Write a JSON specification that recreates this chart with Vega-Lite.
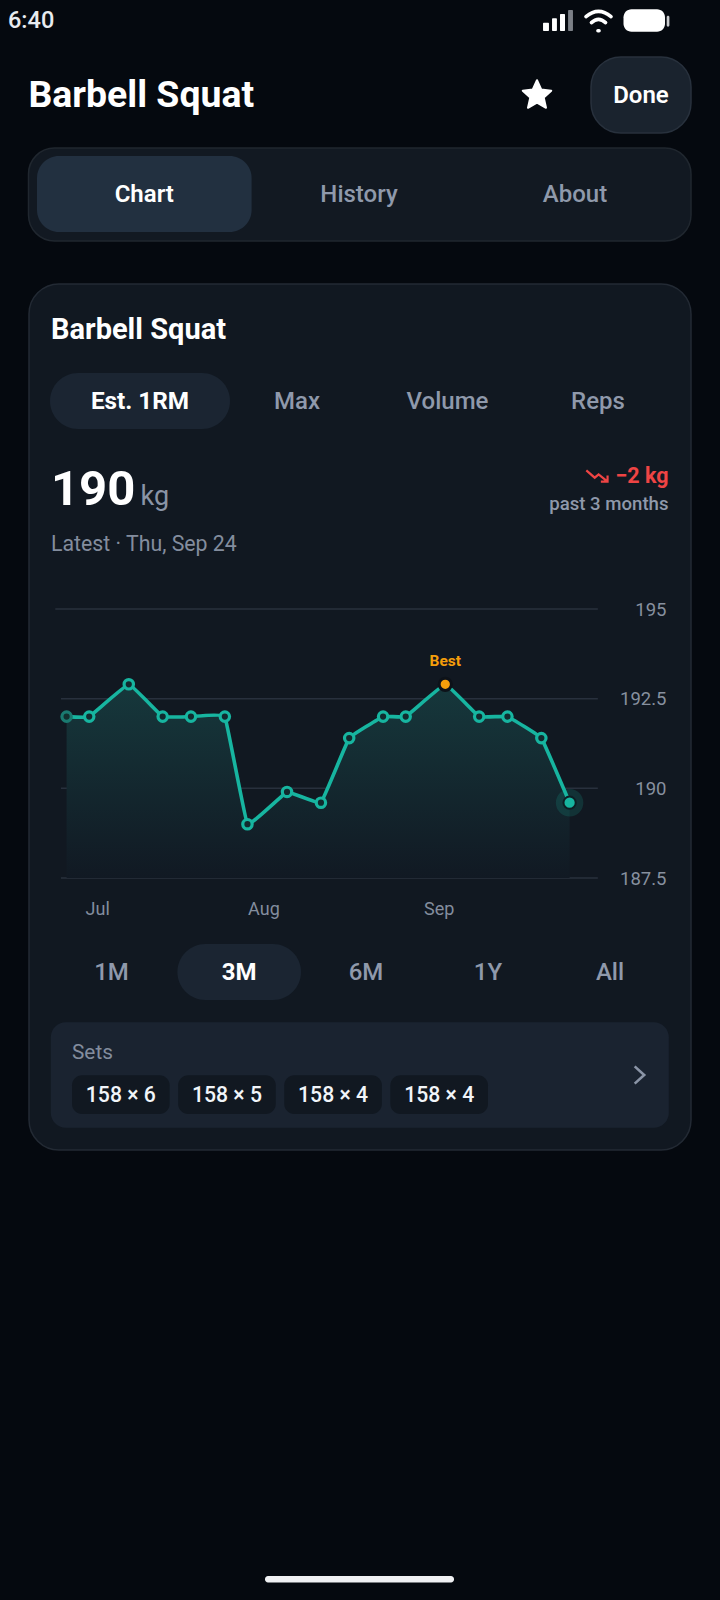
{
  "$schema": "https://vega.github.io/schema/vega-lite/v6.json",
  "width": 720,
  "height": 1600,
  "padding": 0,
  "autosize": {"type": "none"},
  "background": "#05090f",
  "view": {"stroke": null},
  "config": {"font": "Roboto"},
  "resolve": {"scale": {"x": "independent", "y": "independent"}},
  "layer": [
    {
      "data": {"values": [{"label": "6:40"}]},
      "mark": {"type": "text", "fontSize": 23.5, "fontWeight": 500, "color": "#e8ebef", "align": "left", "baseline": "middle"},
      "encoding": {
        "x": {"field": "label", "type": "nominal", "axis": null, "scale": {"type": "point", "padding": 0, "range": [8, 8]}},
        "y": {"field": "label", "type": "nominal", "axis": null, "scale": {"type": "point", "padding": 0, "range": [21, 21]}},
        "text": {"field": "label"}
      }
    },
    {
      "data": {"values": [{"icon": "signal"}]},
      "mark": {"type": "point", "shape": "M-0.95,0.2 L-0.65,0.2 L-0.65,0.65 L-0.95,0.65 Z M-0.35,-0.1 L-0.12,-0.1 L-0.12,0.65 L-0.35,0.65 Z M0.18,-0.38 L0.42,-0.38 L0.42,0.65 L0.18,0.65 Z", "filled": true, "color": "#ffffff", "stroke": "#ffffff", "strokeWidth": 1.4, "strokeJoin": "round", "opacity": 1, "size": 900},
      "encoding": {
        "x": {"field": "icon", "type": "nominal", "axis": null, "scale": {"type": "point", "padding": 0, "range": [558, 558]}},
        "y": {"field": "icon", "type": "nominal", "axis": null, "scale": {"type": "point", "padding": 0, "range": [20.5, 20.5]}}
      }
    },
    {
      "data": {"values": [{"icon": "signal-off"}]},
      "mark": {"type": "point", "shape": "M0.72,-0.65 L0.95,-0.65 L0.95,0.65 L0.72,0.65 Z", "filled": true, "color": "#7b7f86", "stroke": "#7b7f86", "strokeWidth": 1.4, "strokeJoin": "round", "opacity": 1, "size": 900},
      "encoding": {
        "x": {"field": "icon", "type": "nominal", "axis": null, "scale": {"type": "point", "padding": 0, "range": [558, 558]}},
        "y": {"field": "icon", "type": "nominal", "axis": null, "scale": {"type": "point", "padding": 0, "range": [20.5, 20.5]}}
      }
    },
    {
      "data": {"values": [{"icon": "wifi"}]},
      "mark": {"type": "point", "shape": "M-0.92,-0.32 Q0,-1.08 0.92,-0.32 M-0.52,0.12 Q0,-0.36 0.52,0.12 M-0.04,0.72 L0.04,0.72", "filled": false, "fill": "transparent", "stroke": "#ffffff", "strokeWidth": 3.6, "strokeCap": "round", "opacity": 1, "size": 740},
      "encoding": {
        "x": {"field": "icon", "type": "nominal", "axis": null, "scale": {"type": "point", "padding": 0, "range": [598.5, 598.5]}},
        "y": {"field": "icon", "type": "nominal", "axis": null, "scale": {"type": "point", "padding": 0, "range": [21, 21]}}
      }
    },
    {
      "data": {"values": [{"icon": "battery"}]},
      "mark": {"type": "rect", "fill": "#ffffff", "cornerRadius": 8},
      "encoding": {
        "x": {"field": "icon", "type": "nominal", "axis": null, "scale": {"type": "band", "padding": 0, "range": [623.5, 665]}},
        "y": {"field": "icon", "type": "nominal", "axis": null, "scale": {"type": "band", "padding": 0, "range": [9.3, 31.7]}}
      }
    },
    {
      "data": {"values": [{"icon": "battery-cap"}]},
      "mark": {"type": "rect", "fill": "#c9cbce", "cornerRadius": 1.5},
      "encoding": {
        "x": {"field": "icon", "type": "nominal", "axis": null, "scale": {"type": "band", "padding": 0, "range": [666.7, 669.4]}},
        "y": {"field": "icon", "type": "nominal", "axis": null, "scale": {"type": "band", "padding": 0, "range": [15.7, 26.7]}}
      }
    },
    {
      "data": {"values": [{"label": "Barbell Squat"}]},
      "mark": {"type": "text", "fontSize": 37.4, "fontWeight": 700, "color": "#ffffff", "align": "left", "baseline": "alphabetic"},
      "encoding": {
        "x": {"field": "label", "type": "nominal", "axis": null, "scale": {"type": "point", "padding": 0, "range": [28.5, 28.5]}},
        "y": {"field": "label", "type": "nominal", "axis": null, "scale": {"type": "point", "padding": 0, "range": [107, 107]}},
        "text": {"field": "label"}
      }
    },
    {
      "data": {"values": [{"icon": "star"}]},
      "mark": {"type": "point", "shape": "M0,-0.92 L0.28,-0.3 L0.95,-0.22 L0.45,0.24 L0.6,0.92 L0,0.58 L-0.6,0.92 L-0.45,0.24 L-0.95,-0.22 L-0.28,-0.3 Z", "filled": true, "color": "#ffffff", "stroke": "#ffffff", "strokeWidth": 2, "strokeJoin": "round", "opacity": 1, "size": 900},
      "encoding": {
        "x": {"field": "icon", "type": "nominal", "axis": null, "scale": {"type": "point", "padding": 0, "range": [537, 537]}},
        "y": {"field": "icon", "type": "nominal", "axis": null, "scale": {"type": "point", "padding": 0, "range": [94, 94]}}
      }
    },
    {
      "data": {"values": [{"label": "Done"}]},
      "encoding": {
        "x": {"field": "label", "type": "nominal", "axis": null, "scale": {"type": "band", "padding": 0, "range": [591, 691]}},
        "y": {"field": "label", "type": "nominal", "axis": null, "scale": {"type": "band", "padding": 0, "range": [57, 133]}}
      },
      "layer": [
        {"mark": {"type": "rect", "fill": "#1a232e", "stroke": "#28313d", "strokeWidth": 1.5, "cornerRadius": 30}},
        {"mark": {"type": "text", "fontSize": 24, "fontWeight": 600, "color": "#ffffff", "baseline": "middle", "dy": 1}, "encoding": {"text": {"field": "label"}}}
      ]
    },
    {
      "data": {"values": [{"panel": "tabs"}]},
      "mark": {"type": "rect", "fill": "#121922", "stroke": "#20272f", "strokeWidth": 1.5, "cornerRadius": 26},
      "encoding": {
        "x": {"field": "panel", "type": "nominal", "axis": null, "scale": {"type": "band", "padding": 0, "range": [28.5, 691]}},
        "y": {"field": "panel", "type": "nominal", "axis": null, "scale": {"type": "band", "padding": 0, "range": [148, 241]}}
      }
    },
    {
      "data": {"values": [{"label": "Chart"}]},
      "encoding": {
        "x": {"field": "label", "type": "nominal", "axis": null, "scale": {"type": "band", "padding": 0, "range": [37, 251.6]}},
        "y": {"field": "label", "type": "nominal", "axis": null, "scale": {"type": "band", "padding": 0, "range": [156, 232]}}
      },
      "layer": [
        {"mark": {"type": "rect", "fill": "#223040", "cornerRadius": 22}},
        {"mark": {"type": "text", "fontSize": 24, "fontWeight": 600, "color": "#ffffff", "baseline": "middle", "dy": 1}, "encoding": {"text": {"field": "label"}}}
      ]
    },
    {
      "data": {"values": [{"label": "History", "row": "tabs"}, {"label": "About", "row": "tabs"}]},
      "mark": {"type": "text", "fontSize": 24, "fontWeight": 500, "color": "#8f99ab", "baseline": "middle"},
      "encoding": {
        "x": {"field": "label", "type": "nominal", "sort": null, "axis": null, "scale": {"type": "point", "padding": 0, "range": [359, 575]}},
        "y": {"field": "row", "type": "nominal", "axis": null, "scale": {"type": "point", "padding": 0, "range": [195, 195]}},
        "text": {"field": "label"}
      }
    },
    {
      "data": {"values": [{"panel": "card"}]},
      "mark": {"type": "rect", "fill": "#111821", "stroke": "#232a34", "strokeWidth": 1.5, "cornerRadius": 30},
      "encoding": {
        "x": {"field": "panel", "type": "nominal", "axis": null, "scale": {"type": "band", "padding": 0, "range": [29, 691]}},
        "y": {"field": "panel", "type": "nominal", "axis": null, "scale": {"type": "band", "padding": 0, "range": [284, 1150]}}
      }
    },
    {
      "data": {"values": [{"label": "Barbell Squat"}]},
      "mark": {"type": "text", "fontSize": 29, "fontWeight": 700, "color": "#ffffff", "align": "left", "baseline": "alphabetic"},
      "encoding": {
        "x": {"field": "label", "type": "nominal", "axis": null, "scale": {"type": "point", "padding": 0, "range": [51, 51]}},
        "y": {"field": "label", "type": "nominal", "axis": null, "scale": {"type": "point", "padding": 0, "range": [339, 339]}},
        "text": {"field": "label"}
      }
    },
    {
      "data": {"values": [{"label": "Est. 1RM"}]},
      "encoding": {
        "x": {"field": "label", "type": "nominal", "axis": null, "scale": {"type": "band", "padding": 0, "range": [50, 230]}},
        "y": {"field": "label", "type": "nominal", "axis": null, "scale": {"type": "band", "padding": 0, "range": [373, 429]}}
      },
      "layer": [
        {"mark": {"type": "rect", "fill": "#1b2532", "cornerRadius": 28}},
        {"mark": {"type": "text", "fontSize": 24.3, "fontWeight": 700, "color": "#ffffff", "baseline": "middle", "dy": 1}, "encoding": {"text": {"field": "label"}}}
      ]
    },
    {
      "data": {"values": [{"label": "Max", "row": "metric"}, {"label": "Volume", "row": "metric"}, {"label": "Reps", "row": "metric"}]},
      "mark": {"type": "text", "fontSize": 24, "fontWeight": 500, "color": "#8f99ab", "baseline": "middle"},
      "encoding": {
        "x": {"field": "label", "type": "nominal", "sort": null, "axis": null, "scale": {"type": "point", "padding": 0, "range": [297, 598]}},
        "y": {"field": "row", "type": "nominal", "axis": null, "scale": {"type": "point", "padding": 0, "range": [402, 402]}},
        "text": {"field": "label"}
      }
    },
    {
      "data": {"values": [{"label": "190"}]},
      "mark": {"type": "text", "fontSize": 49, "fontWeight": 700, "color": "#ffffff", "align": "left", "baseline": "alphabetic"},
      "encoding": {
        "x": {"field": "label", "type": "nominal", "axis": null, "scale": {"type": "point", "padding": 0, "range": [51, 51]}},
        "y": {"field": "label", "type": "nominal", "axis": null, "scale": {"type": "point", "padding": 0, "range": [505, 505]}},
        "text": {"field": "label"}
      }
    },
    {
      "data": {"values": [{"label": "kg"}]},
      "mark": {"type": "text", "fontSize": 27, "fontWeight": 400, "color": "#8a94a6", "align": "left", "baseline": "alphabetic"},
      "encoding": {
        "x": {"field": "label", "type": "nominal", "axis": null, "scale": {"type": "point", "padding": 0, "range": [140.5, 140.5]}},
        "y": {"field": "label", "type": "nominal", "axis": null, "scale": {"type": "point", "padding": 0, "range": [505, 505]}},
        "text": {"field": "label"}
      }
    },
    {
      "data": {"values": [{"icon": "trend"}]},
      "mark": {"type": "point", "shape": "M-1,-0.5 L-0.25,0.15 L0.1,-0.15 L0.9,0.5 M0.9,-0.05 L0.9,0.5 L0.3,0.5", "filled": false, "fill": "transparent", "stroke": "#ef4444", "strokeWidth": 2.2, "opacity": 1, "size": 500},
      "encoding": {
        "x": {"field": "icon", "type": "nominal", "axis": null, "scale": {"type": "point", "padding": 0, "range": [597.5, 597.5]}},
        "y": {"field": "icon", "type": "nominal", "axis": null, "scale": {"type": "point", "padding": 0, "range": [476, 476]}}
      }
    },
    {
      "data": {"values": [{"label": "−2 kg"}]},
      "mark": {"type": "text", "fontSize": 21.5, "fontWeight": 700, "color": "#ef4444", "align": "right", "baseline": "alphabetic"},
      "encoding": {
        "x": {"field": "label", "type": "nominal", "axis": null, "scale": {"type": "point", "padding": 0, "range": [668.5, 668.5]}},
        "y": {"field": "label", "type": "nominal", "axis": null, "scale": {"type": "point", "padding": 0, "range": [483, 483]}},
        "text": {"field": "label"}
      }
    },
    {
      "data": {"values": [{"label": "past 3 months"}]},
      "mark": {"type": "text", "fontSize": 18.6, "fontWeight": 500, "color": "#8f99ab", "align": "right", "baseline": "alphabetic"},
      "encoding": {
        "x": {"field": "label", "type": "nominal", "axis": null, "scale": {"type": "point", "padding": 0, "range": [668.5, 668.5]}},
        "y": {"field": "label", "type": "nominal", "axis": null, "scale": {"type": "point", "padding": 0, "range": [510, 510]}},
        "text": {"field": "label"}
      }
    },
    {
      "data": {"values": [{"label": "Latest · Thu, Sep 24"}]},
      "mark": {"type": "text", "fontSize": 21.3, "fontWeight": 400, "color": "#838d9e", "align": "left", "baseline": "alphabetic"},
      "encoding": {
        "x": {"field": "label", "type": "nominal", "axis": null, "scale": {"type": "point", "padding": 0, "range": [51, 51]}},
        "y": {"field": "label", "type": "nominal", "axis": null, "scale": {"type": "point", "padding": 0, "range": [551, 551]}},
        "text": {"field": "label"}
      }
    },
    {
      "layer": [
        {
          "data": {
            "values": [
              {"tick": 195, "from": "2020-06-25", "to": "2020-09-29"},
              {"tick": 192.5, "from": "2020-06-26", "to": "2020-09-29"},
              {"tick": 190, "from": "2020-06-26", "to": "2020-09-29"},
              {"tick": 187.5, "from": "2020-06-26", "to": "2020-09-29"}
            ],
            "format": {"parse": {"from": "date:'%Y-%m-%d'", "to": "date:'%Y-%m-%d'"}}
          },
          "mark": {"type": "rule", "color": "#28303d", "strokeWidth": 1.5},
          "encoding": {
            "x": {
              "field": "from",
              "type": "temporal",
              "axis": {
                "orient": "bottom",
                "offset": -705,
                "zindex": 1,
                "title": null,
                "grid": false,
                "domain": false,
                "ticks": false,
                "format": "%b",
                "values": ["2020-07-02T10:00:00", "2020-07-31T20:00:00", "2020-08-31T20:00:00"],
                "labelFont": "Roboto",
                "labelFontSize": 18,
                "labelColor": "#838d9e",
                "labelAlign": "center",
                "labelBaseline": "top",
                "labelPadding": 5,
                "labelFlush": false,
                "labelBound": false,
                "labelOverlap": false,
                "labelExpr": "timeFormat(datetime(time(datum.value) + 86400000), '%b')"
              },
              "scale": {
                "domain": ["2020-06-27T00:00:00", "2020-09-24T00:00:00"],
                "range": [66.6, 569.6]
              }
            },
            "x2": {"field": "to"},
            "y": {
              "field": "tick",
              "type": "quantitative",
              "axis": {
                "orient": "right",
                "offset": -54,
                "zindex": 1,
                "title": null,
                "grid": false,
                "domain": false,
                "ticks": false,
                "format": "~g",
                "values": [187.5, 190, 192.5, 195],
                "labelFont": "Roboto",
                "labelFontSize": 18.5,
                "labelColor": "#87909f",
                "labelAlign": "right",
                "labelPadding": 0,
                "labelFlush": false,
                "labelBound": false,
                "labelOverlap": false
              },
              "scale": {"domain": [187.5, 195], "range": [878, 609], "nice": false, "zero": false}
            }
          }
        },
        {
          "data": {
            "values": [
              {"date": "2020-06-27", "kg": 192, "kind": "first"},
              {"date": "2020-07-01", "kg": 192, "kind": "point"},
              {"date": "2020-07-08", "kg": 192.9, "kind": "point"},
              {"date": "2020-07-14", "kg": 192, "kind": "point"},
              {"date": "2020-07-19", "kg": 192, "kind": "point"},
              {"date": "2020-07-25", "kg": 192, "kind": "point"},
              {"date": "2020-07-29", "kg": 189, "kind": "point"},
              {"date": "2020-08-05", "kg": 189.9, "kind": "point"},
              {"date": "2020-08-11", "kg": 189.6, "kind": "point"},
              {"date": "2020-08-16", "kg": 191.4, "kind": "point"},
              {"date": "2020-08-22", "kg": 192, "kind": "point"},
              {"date": "2020-08-26", "kg": 192, "kind": "point"},
              {"date": "2020-09-02", "kg": 192.9, "kind": "best"},
              {"date": "2020-09-08", "kg": 192, "kind": "point"},
              {"date": "2020-09-13", "kg": 192, "kind": "point"},
              {"date": "2020-09-19", "kg": 191.4, "kind": "point"},
              {"date": "2020-09-24", "kg": 189.6, "kind": "latest"}
            ],
            "format": {"parse": {"date": "date:'%Y-%m-%d'"}}
          },
          "encoding": {
            "x": {"field": "date", "type": "temporal"},
            "y": {"field": "kg", "type": "quantitative"}
          },
          "layer": [
            {
              "mark": {
                "type": "area",
                "interpolate": "cardinal",
                "tension": 0.8,
                "color": {
                  "x1": 1, "y1": 0, "x2": 1, "y2": 1,
                  "gradient": "linear",
                  "stops": [
                    {"offset": 0, "color": "#16383c"},
                    {"offset": 1, "color": "#111923"}
                  ]
                }
              },
              "encoding": {"y2": {"datum": 187.5}}
            },
            {
              "mark": {"type": "line", "interpolate": "cardinal", "tension": 0.8, "color": "#17b5a0", "strokeWidth": 3.6}
            },
            {
              "transform": [{"filter": {"field": "kind", "equal": "first"}}],
              "mark": {"type": "circle", "fill": "#12302f", "stroke": "#1a7a70", "strokeWidth": 3.2, "size": 88, "opacity": 1}
            },
            {
              "transform": [{"filter": {"field": "kind", "equal": "point"}}],
              "mark": {"type": "circle", "fill": "#122a2e", "stroke": "#17b5a0", "strokeWidth": 3.2, "size": 88, "opacity": 1}
            },
            {
              "transform": [{"filter": {"field": "kind", "equal": "best"}}],
              "mark": {"type": "circle", "fill": "#f59e0b", "stroke": "#0d1219", "strokeWidth": 3, "size": 150, "opacity": 1}
            },
            {
              "transform": [{"filter": {"field": "kind", "equal": "best"}}],
              "mark": {"type": "text", "text": "Best", "fontSize": 15.5, "fontWeight": 700, "color": "#f59e0b", "baseline": "middle", "dy": -23}
            },
            {
              "transform": [{"filter": {"field": "kind", "equal": "latest"}}],
              "mark": {"type": "circle", "color": "#17b5a0", "size": 755, "opacity": 0.17}
            },
            {
              "transform": [{"filter": {"field": "kind", "equal": "latest"}}],
              "mark": {"type": "circle", "fill": "#17b5a0", "stroke": "#0d1f24", "strokeWidth": 2, "size": 150, "opacity": 1}
            }
          ]
        }
      ]
    },
    {
      "data": {"values": [{"label": "1M"}]},
      "mark": {"type": "text", "fontSize": 24, "fontWeight": 500, "color": "#8f99ab", "baseline": "middle"},
      "encoding": {
        "x": {"field": "label", "type": "nominal", "axis": null, "scale": {"type": "point", "padding": 0, "range": [111.5, 111.5]}},
        "y": {"field": "label", "type": "nominal", "axis": null, "scale": {"type": "point", "padding": 0, "range": [973, 973]}},
        "text": {"field": "label"}
      }
    },
    {
      "data": {"values": [{"label": "3M"}]},
      "encoding": {
        "x": {"field": "label", "type": "nominal", "axis": null, "scale": {"type": "band", "padding": 0, "range": [177.4, 301]}},
        "y": {"field": "label", "type": "nominal", "axis": null, "scale": {"type": "band", "padding": 0, "range": [944, 1000]}}
      },
      "layer": [
        {"mark": {"type": "rect", "fill": "#1b2532", "cornerRadius": 28}},
        {"mark": {"type": "text", "fontSize": 24, "fontWeight": 700, "color": "#ffffff", "baseline": "middle", "dy": 1}, "encoding": {"text": {"field": "label"}}}
      ]
    },
    {
      "data": {"values": [{"label": "6M", "row": "range"}, {"label": "1Y", "row": "range"}, {"label": "All", "row": "range"}]},
      "mark": {"type": "text", "fontSize": 24, "fontWeight": 500, "color": "#8f99ab", "baseline": "middle"},
      "encoding": {
        "x": {"field": "label", "type": "nominal", "sort": null, "axis": null, "scale": {"type": "point", "padding": 0, "range": [366, 610]}},
        "y": {"field": "row", "type": "nominal", "axis": null, "scale": {"type": "point", "padding": 0, "range": [973, 973]}},
        "text": {"field": "label"}
      }
    },
    {
      "data": {"values": [{"panel": "sets"}]},
      "mark": {"type": "rect", "fill": "#1a2330", "cornerRadius": 15},
      "encoding": {
        "x": {"field": "panel", "type": "nominal", "axis": null, "scale": {"type": "band", "padding": 0, "range": [50.8, 668.8]}},
        "y": {"field": "panel", "type": "nominal", "axis": null, "scale": {"type": "band", "padding": 0, "range": [1022.3, 1127.7]}}
      }
    },
    {
      "data": {"values": [{"label": "Sets"}]},
      "mark": {"type": "text", "fontSize": 20.8, "fontWeight": 400, "color": "#838d9e", "align": "left", "baseline": "middle"},
      "encoding": {
        "x": {"field": "label", "type": "nominal", "axis": null, "scale": {"type": "point", "padding": 0, "range": [72, 72]}},
        "y": {"field": "label", "type": "nominal", "axis": null, "scale": {"type": "point", "padding": 0, "range": [1053, 1053]}},
        "text": {"field": "label"}
      }
    },
    {
      "data": {
        "values": [
          {"set": 1, "weight": 158, "reps": 6, "label": "158 × 6"},
          {"set": 2, "weight": 158, "reps": 5, "label": "158 × 5"},
          {"set": 3, "weight": 158, "reps": 4, "label": "158 × 4"},
          {"set": 4, "weight": 158, "reps": 4, "label": "158 × 4"}
        ]
      },
      "encoding": {
        "x": {"field": "set", "type": "ordinal", "axis": null, "scale": {"type": "band", "paddingInner": 0.08, "paddingOuter": 0, "range": [72, 488]}},
        "y": {"field": "weight", "type": "ordinal", "axis": null, "scale": {"type": "band", "padding": 0, "range": [1075.3, 1114]}}
      },
      "layer": [
        {"mark": {"type": "rect", "fill": "#111821", "cornerRadius": 10}},
        {"mark": {"type": "text", "fontSize": 21.2, "fontWeight": 500, "color": "#f1f5f9", "baseline": "middle", "dy": 1}, "encoding": {"text": {"field": "label"}}}
      ]
    },
    {
      "data": {"values": [{"icon": "chevron"}]},
      "mark": {"type": "point", "shape": "M-0.5,-1 L0.6,0 L-0.5,1", "filled": false, "fill": "transparent", "stroke": "#8a94a6", "strokeWidth": 2.6, "opacity": 1, "size": 300},
      "encoding": {
        "x": {"field": "icon", "type": "nominal", "axis": null, "scale": {"type": "point", "padding": 0, "range": [639, 639]}},
        "y": {"field": "icon", "type": "nominal", "axis": null, "scale": {"type": "point", "padding": 0, "range": [1075, 1075]}}
      }
    },
    {
      "data": {"values": [{"panel": "home"}]},
      "mark": {"type": "rect", "fill": "#f0f1f3", "cornerRadius": 3},
      "encoding": {
        "x": {"field": "panel", "type": "nominal", "axis": null, "scale": {"type": "band", "padding": 0, "range": [265, 454]}},
        "y": {"field": "panel", "type": "nominal", "axis": null, "scale": {"type": "band", "padding": 0, "range": [1576, 1582.5]}}
      }
    }
  ]
}
